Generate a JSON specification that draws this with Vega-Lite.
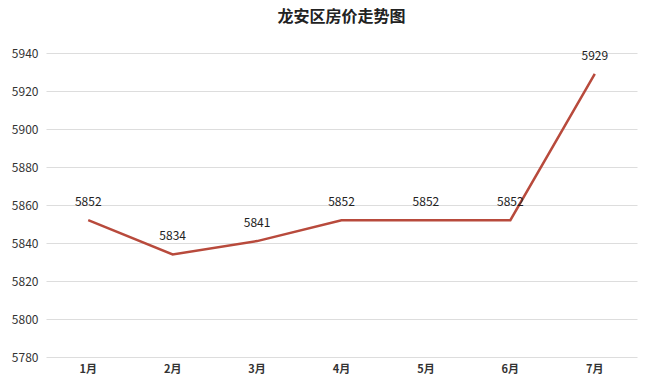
{
  "$schema": "https://vega.github.io/schema/vega-lite/v6.json",
  "width": 591,
  "height": 304,
  "autosize": {"type": "none"},
  "padding": {"left": 46, "top": 53, "right": 13, "bottom": 33},
  "background": "white",
  "config": {
    "font": "Noto Sans CJK SC",
    "view": {"stroke": null}
  },
  "title": {
    "text": "龙安区房价走势图",
    "fontSize": 16,
    "fontWeight": "bold",
    "color": "#222222",
    "offset": 22,
    "anchor": "middle"
  },
  "data": {
    "values": [
      {"month": "1月", "price": 5852},
      {"month": "2月", "price": 5834},
      {"month": "3月", "price": 5841},
      {"month": "4月", "price": 5852},
      {"month": "5月", "price": 5852},
      {"month": "6月", "price": 5852},
      {"month": "7月", "price": 5929}
    ]
  },
  "encoding": {
    "x": {
      "field": "month",
      "type": "ordinal",
      "sort": null,
      "scale": {"type": "band", "paddingInner": 0, "paddingOuter": 0},
      "axis": {
        "title": null,
        "labelAngle": 0,
        "domain": false,
        "ticks": false,
        "labelFontSize": 11,
        "labelFontWeight": "bold",
        "labelColor": "#333333",
        "labelPadding": 6
      }
    },
    "y": {
      "field": "price",
      "type": "quantitative",
      "scale": {"domain": [5780, 5940], "zero": false, "nice": false},
      "axis": {
        "title": null,
        "format": "d",
        "values": [5780, 5800, 5820, 5840, 5860, 5880, 5900, 5920, 5940],
        "domain": false,
        "ticks": false,
        "labelFontSize": 12,
        "labelColor": "#333333",
        "labelPadding": 8,
        "gridColor": "#dddddd",
        "gridWidth": 1
      }
    }
  },
  "layer": [
    {
      "mark": {"type": "line", "color": "#b84a3c", "strokeWidth": 2.5}
    },
    {
      "mark": {"type": "text", "dy": -18, "fontSize": 12, "color": "#222222"},
      "encoding": {"text": {"field": "price", "type": "quantitative", "format": "d"}}
    }
  ]
}
